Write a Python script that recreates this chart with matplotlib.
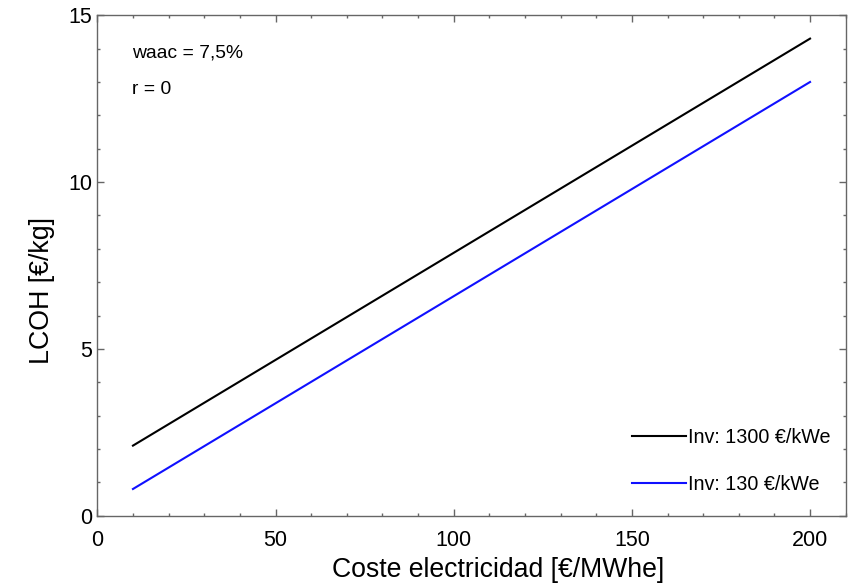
import matplotlib
matplotlib.use("Agg")
import matplotlib.pyplot as plt
from matplotlib.ticker import MultipleLocator

plt.rcParams['font.family'] = ['Liberation Sans', 'DejaVu Sans']

# Data
elec_cost = [10, 200]
lcoh_1300 = [2.1, 14.3]
lcoh_130 = [0.8, 13.0]
labels = ["Inv: 1300 €/kWe", "Inv: 130 €/kWe"]
colors = ["black", "#1010ff"]

fig = plt.figure(figsize=(8.59, 5.87), dpi=100)
ax = fig.add_axes([0.1133, 0.1215, 0.8712, 0.8525])

ax.plot(elec_cost, lcoh_1300, color=colors[0], lw=1.5, label=labels[0])
ax.plot(elec_cost, lcoh_130, color=colors[1], lw=1.5, label=labels[1])

ax.set_xlim(0, 210)
ax.set_ylim(0, 15)
ax.xaxis.set_major_locator(MultipleLocator(50))
ax.xaxis.set_minor_locator(MultipleLocator(10))
ax.yaxis.set_major_locator(MultipleLocator(5))
ax.yaxis.set_minor_locator(MultipleLocator(1))

spc = '#666666'
for s in ax.spines.values():
    s.set_color(spc)
    s.set_linewidth(1.0)
ax.tick_params(which='both', direction='in', top=True, right=True, color=spc, width=1.0)
ax.tick_params(which='major', length=5, labelsize=15.5)
ax.tick_params(axis='x', which='major', pad=10.5)
ax.tick_params(axis='y', which='major', pad=3.5)
ax.tick_params(which='minor', length=2.5)

ax.set_xlabel("Coste electricidad [€/MWhe]", fontsize=19.2)
ax.xaxis.label.set_va('baseline')
ax.xaxis.set_label_coords(0.536, -0.1225)
ax.set_ylabel("LCOH [€/kg]", fontsize=19.3)
ax.yaxis.label.set_va('center')
ax.yaxis.set_label_coords(-0.0739, 0.45)

ax.text(0.047, 0.925, "waac = 7,5%", transform=ax.transAxes, fontsize=13.9, va='center', ha='left')
ax.text(0.047, 0.851, "r = 0", transform=ax.transAxes, fontsize=13.9, va='center', ha='left')

leg = ax.legend(loc='upper left', bbox_to_anchor=(0.715, 0.175), frameon=False,
                fontsize=14.2, handlelength=2.7, handletextpad=0.1,
                labelspacing=1.42, borderpad=0, borderaxespad=0)

fig.savefig("out.png", dpi=100)
